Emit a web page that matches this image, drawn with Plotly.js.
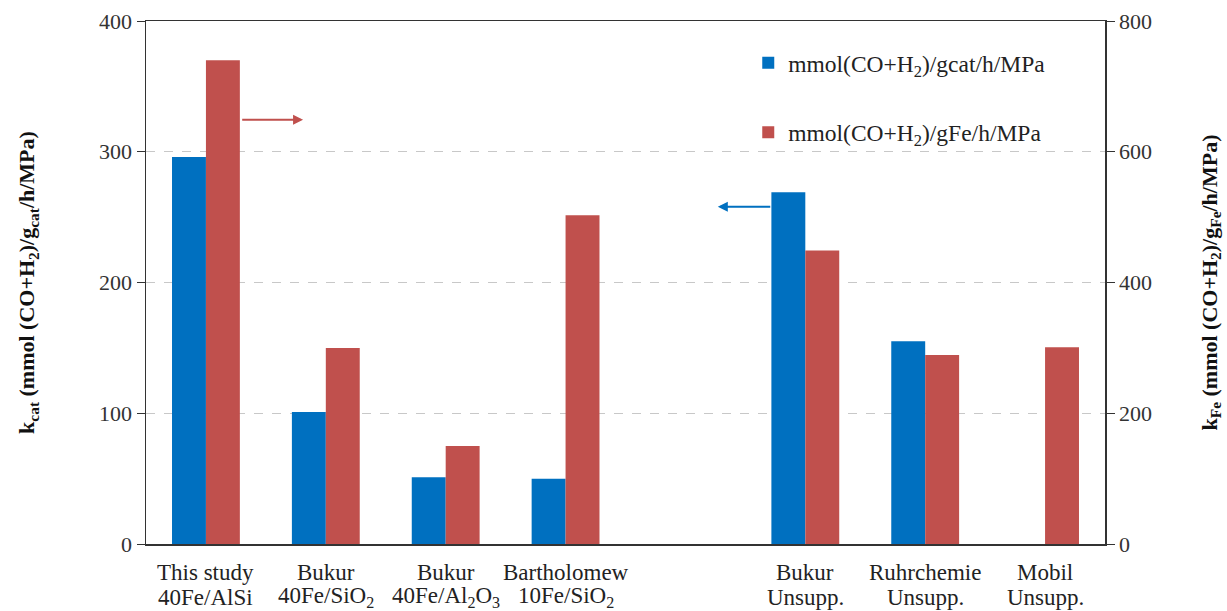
<!DOCTYPE html>
<html>
<head>
<meta charset="utf-8">
<script src="https://cdn.plot.ly/plotly-3.0.1.min.js"></script>
<style>
  html, body { margin: 0; padding: 0; background: #fff; }
  #chart { width: 1227px; height: 611px; }
</style>
</head>
<body>
<div id="chart"></div>
<script>
// Source of each catalyst result (blank slot separates supported from unsupported catalysts)
const sources = ['This study', 'Bukur', 'Bukur', 'Bartholomew', '', 'Bukur', 'Ruhrchemie', 'Mobil'];
// Catalyst composition / support
const catalysts = [
  '40Fe/AlSi',
  '40Fe/SiO<sub>2</sub>',
  '40Fe/Al<sub>2</sub>O<sub>3</sub>',
  '10Fe/SiO<sub>2</sub>',
  '',
  'Unsupp.',
  'Unsupp.',
  'Unsupp.'
];

// k_cat, mmol(CO+H2)/gcat/h/MPa (left axis)
const kCat = [296, 101, 51, 50, null, 269, 155, null];

// k_Fe, mmol(CO+H2)/gFe/h/MPa (right axis)
const kFe = [740, 300, 150, 503, null, 449, 289, 301];

const xIdx = sources.map((_, i) => i);

const serif = '"Liberation Serif", "Times New Roman", serif';
const blue = '#0070C0';
const red = '#C0504D';
const ink = '#222';
const barW = 0.283;

const traces = [
  {
    type: 'bar',
    name: 'mmol(CO+H<sub>2</sub>)/gcat/h/MPa',
    x: xIdx, y: kCat,
    width: barW, offset: -barW,
    marker: { color: blue },
    legendgroup: 'cat',
    yaxis: 'y'
  },
  {
    type: 'bar',
    name: 'mmol(CO+H<sub>2</sub>)/gFe/h/MPa',
    x: xIdx, y: kFe,
    width: barW, offset: 0,
    marker: { color: red },
    legendgroup: 'fe',
    yaxis: 'y2'
  }
];

// two-line category labels under the axis
const labelAnnotations = [];
xIdx.forEach(i => {
  if (sources[i]) {
    labelAnnotations.push({
      xref: 'x', yref: 'paper', x: i, y: 0,
      yanchor: 'middle', yshift: -28,
      text: sources[i], showarrow: false,
      font: { family: serif, size: 23, color: ink }
    });
  }
  if (catalysts[i]) {
    labelAnnotations.push({
      xref: 'x', yref: 'paper', x: i, y: 0,
      yanchor: 'middle', yshift: -53,
      text: catalysts[i], showarrow: false,
      font: { family: serif, size: 23, color: ink }
    });
  }
});

const layout = {
  width: 1227, height: 611,
  margin: { l: 146, r: 122, t: 21, b: 67 },
  paper_bgcolor: '#fff', plot_bgcolor: '#fff',
  font: { family: serif, color: ink, size: 22 },
  barmode: 'overlay',
  showlegend: true,
  legend: {
    x: 0.628, y: 0.962, xanchor: 'left', yanchor: 'top',
    bgcolor: 'rgba(0,0,0,0)',
    font: { family: serif, size: 23.5, color: ink },
    tracegroupgap: 36,
    itemwidth: 30
  },
  xaxis: {
    range: [-0.5, 7.5],
    tickvals: xIdx, showticklabels: false,
    showgrid: false, zeroline: false,
    showline: true, linecolor: '#333', linewidth: 1.5,
    ticks: '', mirror: true,
    fixedrange: true
  },
  yaxis: {
    range: [0, 400], tickvals: [0, 100, 200, 300, 400],
    showgrid: true, gridcolor: '#c8c8c8', griddash: 'dash', gridwidth: 1,
    zeroline: false,
    showline: true, linecolor: '#333', linewidth: 1.5,
    ticks: 'outside', ticklen: 8, tickcolor: '#333',
    tickfont: { family: serif, size: 22, color: '#333' },
    title: {
      text: '<b>k<sub>cat</sub> (mmol (CO+H<sub>2</sub>)/g<sub>cat</sub>/h/MPa)</b>',
      font: { family: serif, size: 22, color: '#111' },
      standoff: 58
    }
  },
  yaxis2: {
    overlaying: 'y', side: 'right',
    range: [0, 800], tickvals: [0, 200, 400, 600, 800],
    showgrid: false, zeroline: false,
    showline: true, linecolor: '#333', linewidth: 1.5,
    ticks: 'outside', ticklen: 8, tickcolor: '#333',
    tickfont: { family: serif, size: 22, color: '#333' },
    title: {
      text: '<b>k<sub>Fe</sub> (mmol (CO+H<sub>2</sub>)/g<sub>Fe</sub>/h/MPa)</b>',
      font: { family: serif, size: 22, color: '#111' },
      standoff: 50
    }
  },
  annotations: labelAnnotations.concat([
    // red bars belong to the right axis
    {
      xref: 'x', yref: 'y2',
      x: 0.81, y: 649, ax: 0.29, ay: 649,
      axref: 'x', ayref: 'y2',
      showarrow: true, arrowhead: 2, arrowsize: 1, arrowwidth: 2,
      arrowcolor: red, text: ''
    },
    // blue bars belong to the left axis
    {
      xref: 'x', yref: 'y',
      x: 4.27, y: 258, ax: 4.72, ay: 258,
      axref: 'x', ayref: 'y',
      showarrow: true, arrowhead: 2, arrowsize: 1, arrowwidth: 2,
      arrowcolor: blue, text: ''
    }
  ])
};

Plotly.newPlot('chart', traces, layout, { displayModeBar: false, staticPlot: true });
</script>
</body>
</html>
